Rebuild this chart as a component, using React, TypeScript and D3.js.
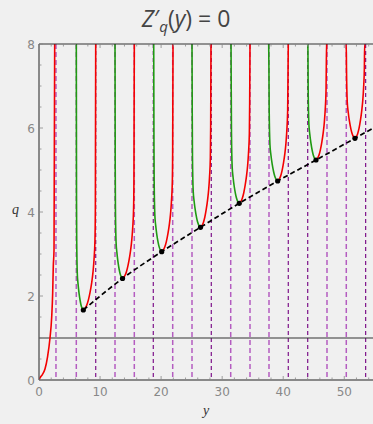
import React from "react";
import * as d3 from "d3";

// ---- data ----
const xTicks = [0, 10, 20, 30, 40, 50];
const yTicks = [0, 2, 4, 6, 8];

// first red branch from the origin
const firstBranch: [number, number][] = [
  [0, 0], [0.16, 0.05], [0.55, 0.13], [0.98, 0.26], [1.4, 0.55], [1.8, 1.0], [2.08, 1.5],
  [2.24, 2.07], [2.34, 2.7], [2.46, 3.1], [2.57, 8],
];

// U-shaped branches: left/right asymptote, minimum (y, q)
const uLeft = [6.11, 12.45, 18.79, 25.06, 31.45, 37.62, 44.01, 50.28];
const uRight = [9.29, 15.61, 21.95, 28.17, 34.56, 40.83, 47.12, 53.39];
const minY = [7.26, 13.68, 20.1, 26.45, 32.8, 39.09, 45.37, 51.75];
const minQ = [1.667, 2.417, 3.055, 3.636, 4.207, 4.738, 5.238, 5.755];
const leftColor = ["green", "green", "green", "green", "green", "green", "green", "red"];

// branch profile (fraction across the half-width, rise above the minimum)
const leftProfile: [number, number][] = [
  [0.03, 2.6], [0.056, 1.67], [0.14, 0.87], [0.25, 0.62], [0.39, 0.4],
  [0.55, 0.22], [0.67, 0.12], [0.85, 0.03], [1, 0],
];
const rightProfile: [number, number][] = [
  [0, 0], [0.14, 0.04], [0.27, 0.11], [0.41, 0.24], [0.55, 0.43],
  [0.67, 0.64], [0.78, 0.9], [0.86, 1.19], [0.94, 1.67], [0.97, 2.4],
];

// dashed curve through the minima
const envY = [7.26, 13.68, 20.1, 26.45, 32.8, 39.09, 45.37, 51.75, 55];
const envQ = [1.667, 2.417, 3.055, 3.636, 4.207, 4.738, 5.238, 5.755, 6.02];

// vertical dashed lines
const vLines = [2.78, 6.11, 9.29, 12.45, 15.61, 18.72, 21.9, 25.06, 28.22, 31.4, 34.56, 37.67, 40.83, 44.01, 47.17, 50.33, 53.5];
const vDark = [false, false, true, false, false, true, false, false, true, false, false, false, true, true, false, false, true];

const hLineQ = 1;

export default function App() {
  const W = 373, H = 424;
  const x = d3.scaleLinear().domain([0, 55]).range([39, 374.8]);
  const y = d3.scaleLinear().domain([0, 8]).range([380, 44]);
  const left = x(0), right = x(55), top = y(8), bottom = y(0);

  const line = d3.line<[number, number]>()
    .x((d) => x(d[0]))
    .y((d) => y(d[1]))
    .curve(d3.curveMonotoneX);

  const red = "#f40000";
  const green = "#1f9a12";

  const uPaths = uLeft.map((a, i) => {
    const m = minY[i], qm = minQ[i], b = uRight[i];
    const lp: [number, number][] = [[a, 8], ...leftProfile.map(([s, dq]) => [a + s * (m - a), Math.min(8, qm + dq)] as [number, number])];
    const rp: [number, number][] = [...rightProfile.map(([r, dq]) => [m + r * (b - m), Math.min(8, qm + dq)] as [number, number]), [b, 8]];
    return { lp, rp, lc: leftColor[i] === "green" ? green : red };
  });

  const env: [number, number][] = envY.map((v, i) => [v, envQ[i]]);

  const xMinor = d3.range(0, 56, 2);
  const yMinor = d3.range(0, 8.01, 0.5);

  return (
    <svg width={W} height={H} style={{ position: "absolute", left: 0, top: 0 }} xmlns="http://www.w3.org/2000/svg">
      <rect x={0} y={0} width={W} height={H} fill="#f0f0f0" />
      <defs>
        <clipPath id="plot">
          <rect x={left} y={top} width={right - left} height={bottom - top} />
        </clipPath>
      </defs>

      <text x={186} y={27} textAnchor="middle" fontFamily="'Open Sans', 'Noto Sans', sans-serif" fontSize={23} fill="#444">
        <tspan fontStyle="italic">Z</tspan>
        <tspan>′</tspan>
        <tspan fontStyle="italic" fontSize={15} dy={5}>q</tspan>
        <tspan dy={-5}>(</tspan>
        <tspan fontStyle="italic">y</tspan>
        <tspan>) = 0</tspan>
      </text>

      <g clipPath="url(#plot)">
        {vLines.map((v, i) => (
          <line key={"v" + i} x1={x(v)} x2={x(v)} y1={top} y2={bottom}
            stroke={vDark[i] ? "#7d1189" : "#b45cc0"} strokeWidth={vDark[i] ? 1.2 : 1.5}
            strokeDasharray={vDark[i] ? "4,3" : "5,3"} />
        ))}
        <line x1={left} x2={right} y1={y(hLineQ)} y2={y(hLineQ)} stroke="#333" strokeWidth={1} />
        <path d={line(firstBranch) || ""} fill="none" stroke={red} strokeWidth={1.6} />
        {uPaths.map((u, i) => (
          <g key={"u" + i}>
            <path d={line(u.lp) || ""} fill="none" stroke={u.lc} strokeWidth={1.6} />
            <path d={line(u.rp) || ""} fill="none" stroke={red} strokeWidth={1.6} />
          </g>
        ))}
        <path d={line(env) || ""} fill="none" stroke="#000" strokeWidth={1.7} strokeDasharray="5,3" />
        {minY.map((v, i) => (
          <circle key={"c" + i} cx={x(v)} cy={y(minQ[i])} r={2.6} fill="#000" />
        ))}
      </g>

      {/* frame */}
      <line x1={left} x2={right} y1={top} y2={top} stroke="#333" strokeWidth={1} />
      <line x1={left} x2={right} y1={bottom} y2={bottom} stroke="#222" strokeWidth={1} />
      <line x1={left} x2={left} y1={top} y2={bottom} stroke="#222" strokeWidth={1} />

      {/* ticks */}
      {xMinor.map((t) => {
        const major = t % 10 === 0;
        const len = major ? 4 : 2.5;
        return (
          <g key={"xt" + t}>
            <line x1={x(t)} x2={x(t)} y1={bottom} y2={bottom - len} stroke="#888" strokeWidth={0.8} />
            <line x1={x(t)} x2={x(t)} y1={top} y2={top + len} stroke="#888" strokeWidth={0.8} />
          </g>
        );
      })}
      {yMinor.map((t) => {
        const major = t % 2 === 0;
        const len = major ? 4 : 2.5;
        return <line key={"yt" + t} x1={left} x2={left + len} y1={y(t)} y2={y(t)} stroke="#888" strokeWidth={0.8} />;
      })}
      {xTicks.map((t) => (
        <text key={"xl" + t} x={x(t)} y={396} textAnchor="middle" fontFamily="'DejaVu Sans', sans-serif" fontSize={12} fill="#888">{t}</text>
      ))}
      {yTicks.map((t) => (
        <text key={"yl" + t} x={35} y={y(t) + 4.5} textAnchor="end" fontFamily="'DejaVu Sans', sans-serif" fontSize={12} fill="#888">{t}</text>
      ))}

      <text x={12} y={214} fontFamily="'Liberation Serif', 'DejaVu Serif', serif" fontStyle="italic" fontSize={14} fill="#333">q</text>
      <text x={203} y={415} fontFamily="'Liberation Serif', 'DejaVu Serif', serif" fontStyle="italic" fontSize={14} fill="#333">y</text>
    </svg>
  );
}
